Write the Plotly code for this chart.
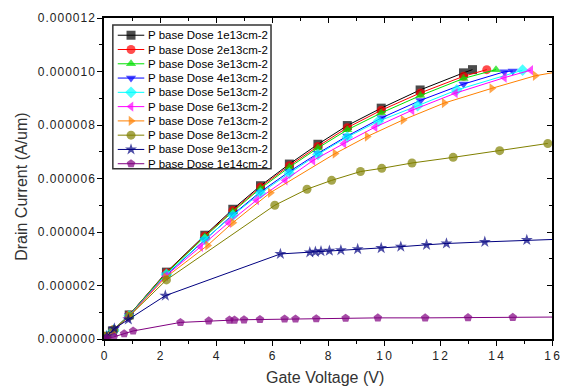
import plotly.graph_objects as go

# ---------------- data (x: Gate Voltage V, y: Drain Current in 1e-6 A/um) ----------------
names = ["P base Dose 1e13cm-2", "P base Dose 2e13cm-2", "P base Dose 3e13cm-2",
         "P base Dose 4e13cm-2", "P base Dose 5e13cm-2", "P base Dose 6e13cm-2",
         "P base Dose 7e13cm-2", "P base Dose 8e13cm-2", "P base Dose 9e13cm-2",
         "P base Dose 1e14cm-2"]

x_1e13 = [0.07, 0.3, 0.9, 2.23, 3.6, 4.6, 5.59, 6.62, 7.64, 8.69, 9.9, 11.29, 12.84, 13.16]
y_1e13 = [0.10, 0.30, 0.90, 2.50, 3.88, 4.85, 5.73, 6.54, 7.28, 7.98, 8.63, 9.31, 9.95, 10.07]

x_2e13 = [0.1, 0.35, 0.9, 2.23, 3.6, 4.6, 5.59, 6.62, 7.64, 8.69, 9.9, 11.3, 12.84, 13.67]
y_2e13 = [0.10, 0.35, 0.90, 2.48, 3.85, 4.80, 5.68, 6.48, 7.20, 7.90, 8.55, 9.20, 9.82, 10.07]

x_3e13 = [0.1, 0.35, 0.9, 2.23, 3.6, 4.6, 5.59, 6.62, 7.64, 8.69, 9.9, 11.3, 12.84, 14.0]
y_3e13 = [0.10, 0.35, 0.90, 2.46, 3.82, 4.76, 5.63, 6.42, 7.14, 7.82, 8.45, 9.10, 9.74, 10.07]

x_4e13 = [0.1, 0.35, 0.9, 2.23, 3.6, 4.6, 5.59, 6.62, 7.64, 8.69, 9.92, 11.3, 12.84, 14.3, 14.6]
y_4e13 = [0.10, 0.35, 0.88, 2.40, 3.72, 4.65, 5.50, 6.26, 6.94, 7.59, 8.27, 8.92, 9.53, 9.99, 10.02]

x_5e13 = [0.1, 0.35, 0.9, 2.23, 3.6, 4.6, 5.59, 6.62, 7.64, 8.69, 9.8, 11.2, 12.6, 14.95]
y_5e13 = [0.10, 0.33, 0.87, 2.42, 3.72, 4.62, 5.45, 6.20, 6.90, 7.55, 8.14, 8.72, 9.31, 10.05]

x_6e13 = [0.1, 0.35, 0.85, 2.2, 3.45, 4.45, 5.45, 6.47, 7.46, 8.57, 9.68, 11.0, 12.55, 14.3, 15.24]
y_6e13 = [0.08, 0.30, 0.80, 2.35, 3.45, 4.35, 5.19, 5.93, 6.67, 7.31, 7.92, 8.55, 9.19, 9.77, 10.05]

x_7e13 = [0.1, 0.35, 0.9, 2.2, 3.7, 4.6, 5.94, 8.25, 9.4, 10.68, 12.15, 13.85, 15.4, 16.0]
y_7e13 = [0.10, 0.33, 0.85, 2.30, 3.50, 4.35, 5.47, 6.93, 7.57, 8.19, 8.82, 9.37, 9.84, 9.95]

x_8e13 = [0.1, 0.35, 0.9, 2.23, 6.1, 7.25, 8.13, 9.16, 9.92, 11.0, 12.47, 14.13, 15.85]
y_8e13 = [0.10, 0.35, 0.85, 2.21, 5.00, 5.60, 5.93, 6.26, 6.38, 6.58, 6.79, 7.04, 7.31]

x_9e13 = [0.1, 0.37, 0.87, 2.19, 6.3, 7.35, 7.55, 7.75, 8.05, 8.46, 9.06, 9.9, 10.6, 11.52,
          12.23, 13.6, 15.1, 16.0]
y_9e13 = [0.10, 0.39, 0.73, 1.62, 3.18, 3.24, 3.26, 3.28, 3.30, 3.32, 3.36, 3.40, 3.45, 3.52,
          3.57, 3.63, 3.70, 3.72]

x_1e14 = [0.1, 0.35, 0.72, 1.04, 2.73, 3.74, 4.48, 4.66, 5.0, 5.57, 6.45, 6.84, 7.58, 8.63,
          9.78, 11.47, 13.0, 14.6, 16.0]
y_1e14 = [0.03, 0.08, 0.20, 0.30, 0.62, 0.68, 0.71, 0.71, 0.72, 0.73, 0.75, 0.75, 0.76, 0.78,
          0.79, 0.79, 0.80, 0.81, 0.82]

# line-only end points (no marker drawn) per series
line_only_last = [False, False, False, False, False, False, True, False, True, True]

y_tick_vals = [0, 2, 4, 6, 8, 10, 12]
y_tick_text = ["0.000000", "0.000002", "0.000004", "0.000006", "0.000008", "0.000010", "0.000012"]
x_tick_vals = [0, 2, 4, 6, 8, 10, 12, 14, 16]

colors = ["#000000", "#ff0000", "#00e000", "#0000ff", "#00ffff", "#ff00ff", "#ff8000",
          "#808000", "#000080", "#800080"]
symbols = ["square", "circle", "triangle-up", "triangle-down", "diamond", "triangle-left",
           "triangle-right", "circle", "star", "pentagon"]

xs = [x_1e13, x_2e13, x_3e13, x_4e13, x_5e13, x_6e13, x_7e13, x_8e13, x_9e13, x_1e14]
ys = [y_1e13, y_2e13, y_3e13, y_4e13, y_5e13, y_6e13, y_7e13, y_8e13, y_9e13, y_1e14]

SCALE = 1e-6
FONT = "Liberation Sans, Arial, sans-serif"

# ---------------- layout geometry (pixels) ----------------
W, H = 571, 391
L, R, T, B = 104, 11, 13, 52
PW, PH = W - L - R, H - T - B
LEG_LEFT, LEG_RIGHT, LEG_TOP, LEG_BOTTOM = 113, 274, 20, 166
LEG_ROW0, LEG_ROWSTEP = 30.5, 14.5
LEG_LINE0, LEG_LINE1, LEG_TEXT = 118, 145, 147

def spaced(s, sep="\u2009"):
    return sep.join(list(s))

def px(xp):   # pixel x -> legend-axis coordinate
    return xp - L

def py(yp):   # pixel y -> legend-axis coordinate
    return (H - B) - yp

fig = go.Figure()
for i in range(10):
    n = len(xs[i])
    sizes = [9] * n
    if line_only_last[i]:
        sizes[-1] = 0
    fig.add_trace(go.Scatter(
        x=xs[i], y=[v * SCALE for v in ys[i]], name=names[i],
        mode="lines+markers",
        line=dict(color=colors[i], width=1),
        marker=dict(symbol=symbols[i], color=colors[i], size=sizes, line=dict(width=0)),
        showlegend=False,
    ))

# ---------------- hand-drawn legend on a pixel overlay axis ----------------
annotations = []
for i in range(10):
    yc = py(LEG_ROW0 + i * LEG_ROWSTEP)
    fig.add_trace(go.Scatter(
        x=[px(LEG_LINE0), px((LEG_LINE0 + LEG_LINE1) / 2), px(LEG_LINE1)], y=[yc, yc, yc],
        xaxis="x3", yaxis="y3", mode="lines+markers",
        line=dict(color=colors[i], width=1),
        marker=dict(symbol=symbols[i], color=colors[i], size=[0, 9, 0], line=dict(width=0)),
        showlegend=False, hoverinfo="skip"))
    annotations.append(dict(text=names[i], xref="x3", yref="y3", x=px(LEG_TEXT), y=yc,
                            xanchor="left", yanchor="middle", showarrow=False,
                            font=dict(family=FONT, size=11.5, color="black")))

annotations += [
    dict(text="Drain Current (A/um)", xref="paper", yref="paper",
         x=(20 - L) / PW, y=((H - B) - 184) / PH, xanchor="center", yanchor="middle",
         textangle=-90, showarrow=False, font=dict(family=FONT, size=16, color="#333")),
    dict(text="Gate Voltage (V)", xref="paper", yref="paper",
         x=(329 - L) / PW, y=((H - B) - 378) / PH, xanchor="center", yanchor="middle",
         showarrow=False, font=dict(family=FONT, size=16, color="#333")),
]

axis_common = dict(showgrid=False, zeroline=False, showline=True, linecolor="black",
                   linewidth=1.5, tickcolor="black",
                   tickfont=dict(family=FONT, size=12, color="#222"))

fig.update_layout(
    width=W, height=H,
    margin=dict(l=L, r=R, t=T, b=B),
    paper_bgcolor="white", plot_bgcolor="white",
    font=dict(family=FONT, size=12, color="black"),
    showlegend=False,
    xaxis=dict(range=[0, 16], tickvals=x_tick_vals, ticktext=[spaced(str(v)) for v in x_tick_vals],
               ticks="outside", ticklen=5,
               minor=dict(dtick=1, ticks="outside", ticklen=3, tickcolor="black"),
               **axis_common),
    yaxis=dict(range=[0, 12 * SCALE], tickvals=[v * SCALE for v in y_tick_vals],
               ticktext=[spaced(t, "\u200a") for t in y_tick_text],
               ticks="outside", ticklen=5,
               minor=dict(dtick=1 * SCALE, ticks="outside", ticklen=3, tickcolor="black"),
               **axis_common),
    xaxis2=dict(overlaying="x", matches="x", side="top", range=[0, 16], tickvals=x_tick_vals,
                showticklabels=False, ticks="inside", ticklen=5,
                minor=dict(dtick=1, ticks="inside", ticklen=3, tickcolor="black"),
                **axis_common),
    yaxis2=dict(overlaying="y", matches="y", side="right", range=[0, 12 * SCALE],
                tickvals=[v * SCALE for v in y_tick_vals], showticklabels=False,
                ticks="inside", ticklen=5,
                minor=dict(dtick=1 * SCALE, ticks="inside", ticklen=3, tickcolor="black"),
                **axis_common),
    xaxis3=dict(overlaying="x", range=[0, PW], visible=False, fixedrange=True),
    yaxis3=dict(overlaying="y", range=[0, PH], visible=False, fixedrange=True),
    shapes=[dict(type="rect", xref="paper", yref="paper",
                 x0=(LEG_LEFT - L) / PW, x1=(LEG_RIGHT - L) / PW,
                 y0=((H - B) - LEG_BOTTOM) / PH, y1=((H - B) - LEG_TOP) / PH,
                 line=dict(color="#333", width=1.5), fillcolor="white", layer="below")],
    annotations=annotations,
)
# invisible trace to activate the mirrored top/right axes
fig.add_trace(go.Scatter(x=[0], y=[0], xaxis="x2", yaxis="y2", mode="markers",
                         marker=dict(size=0, opacity=0), showlegend=False, hoverinfo="skip"))

fig.write_html("out.html")
